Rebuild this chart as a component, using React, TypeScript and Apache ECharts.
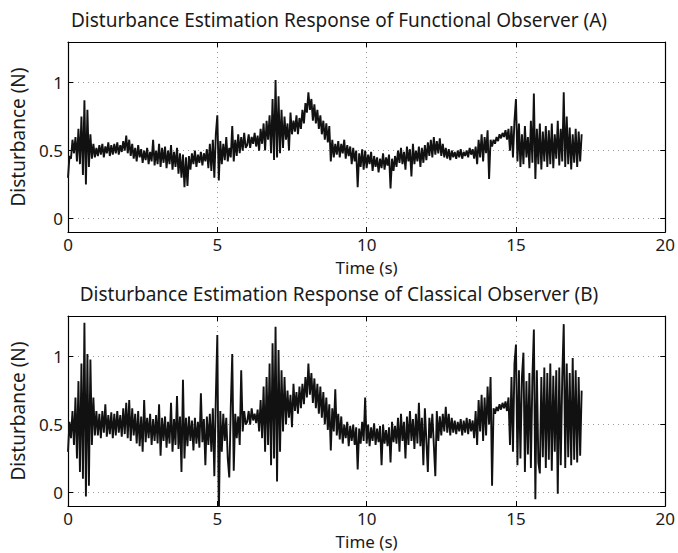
import React, { useEffect, useRef } from "react";
import * as echarts from "echarts";

// ---- data ----
const SAMPLE_DT = 0.05; // seconds between listed samples
const X_MIN = 0;
const X_MAX = 20;
const X_STEP = 5;
const Y_MIN = -0.1;
const Y_MAX = 1.3;
const Y_TICKS = [0, 0.5, 1];

const TITLE_A = "Disturbance Estimation Response of Functional Observer (A)";
const TITLE_B = "Disturbance Estimation Response of Classical Observer (B)";
const X_NAME = "Time (s)";
const Y_NAME = "Disturbance (N)";

// Functional observer (A), one row per second
const FUNCTIONAL_A = [
  0.30, 0.46, 0.44, 0.58, 0.48, 0.60, 0.42, 0.66, 0.40, 0.75, 0.32, 0.87, 0.25, 0.80, 0.38, 0.62, 0.44, 0.55, 0.45, 0.52,
  0.46, 0.54, 0.47, 0.55, 0.45, 0.53, 0.48, 0.56, 0.46, 0.54, 0.47, 0.55, 0.48, 0.56, 0.47, 0.54, 0.49, 0.57, 0.50, 0.61,
  0.48, 0.58, 0.46, 0.55, 0.44, 0.52, 0.42, 0.54, 0.45, 0.51, 0.41, 0.50, 0.43, 0.52, 0.40, 0.49, 0.42, 0.58, 0.39, 0.50,
  0.40, 0.55, 0.38, 0.52, 0.41, 0.53, 0.37, 0.50, 0.40, 0.54, 0.36, 0.49, 0.38, 0.52, 0.33, 0.48, 0.30, 0.47, 0.23, 0.45,
  0.24, 0.46, 0.36, 0.48, 0.40, 0.50, 0.38, 0.47, 0.41, 0.49, 0.39, 0.48, 0.42, 0.51, 0.37, 0.55, 0.35, 0.58, 0.30, 0.62,
  0.76, 0.28, 0.57, 0.40, 0.55, 0.43, 0.60, 0.42, 0.52, 0.45, 0.68, 0.42, 0.58, 0.46, 0.62, 0.48, 0.60, 0.50, 0.63, 0.52,
  0.54, 0.62, 0.52, 0.60, 0.55, 0.63, 0.53, 0.61, 0.50, 0.66, 0.55, 0.70, 0.50, 0.72, 0.58, 0.76, 0.48, 0.88, 0.43, 1.02,
  0.45, 0.90, 0.48, 0.80, 0.52, 0.75, 0.58, 0.70, 0.50, 0.78, 0.62, 0.72, 0.64, 0.76, 0.62, 0.74, 0.66, 0.80, 0.70, 0.85,
  0.78, 0.93, 0.80, 0.88, 0.72, 0.84, 0.70, 0.80, 0.66, 0.76, 0.62, 0.72, 0.58, 0.70, 0.56, 0.68, 0.42, 0.58, 0.45, 0.55,
  0.47, 0.57, 0.45, 0.55, 0.48, 0.58, 0.44, 0.54, 0.46, 0.53, 0.40, 0.52, 0.42, 0.50, 0.23, 0.48, 0.38, 0.51, 0.36, 0.50,
  0.37, 0.47, 0.40, 0.49, 0.35, 0.46, 0.38, 0.45, 0.34, 0.44, 0.37, 0.48, 0.36, 0.45, 0.39, 0.47, 0.22, 0.44, 0.35, 0.46,
  0.38, 0.50, 0.41, 0.52, 0.40, 0.49, 0.36, 0.53, 0.42, 0.51, 0.31, 0.55, 0.40, 0.50, 0.42, 0.53, 0.38, 0.52, 0.41, 0.54,
  0.43, 0.56, 0.46, 0.58, 0.45, 0.60, 0.47, 0.57, 0.48, 0.59, 0.46, 0.55, 0.45, 0.52, 0.44, 0.51, 0.43, 0.50, 0.45, 0.49,
  0.44, 0.50, 0.45, 0.51, 0.44, 0.49, 0.46, 0.50, 0.45, 0.52, 0.47, 0.51, 0.44, 0.53, 0.40, 0.58, 0.45, 0.62, 0.42, 0.60,
  0.48, 0.65, 0.29, 0.58, 0.53, 0.58, 0.55, 0.60, 0.57, 0.62, 0.59, 0.63, 0.60, 0.65, 0.58, 0.66, 0.50, 0.68, 0.45, 0.72,
  0.88, 0.42, 0.70, 0.38, 0.62, 0.40, 0.68, 0.45, 0.60, 0.37, 0.72, 0.41, 0.92, 0.29, 0.66, 0.40, 0.70, 0.36, 0.64, 0.42,
  0.68, 0.38, 0.65, 0.40, 0.70, 0.37, 0.62, 0.44, 0.72, 0.39, 0.66, 0.42, 0.93, 0.38, 0.75, 0.40, 0.67, 0.36, 0.62, 0.41,
  0.66, 0.38, 0.64, 0.42, 0.62,
];

// Classical observer (B), one row per second
const CLASSICAL_B = [
  0.30, 0.52, 0.40, 0.60, 0.35, 0.70, 0.25, 0.82, 0.15, 0.95, 0.10, 1.25, -0.03, 1.02, 0.05, 0.98, 0.35, 0.70, 0.42, 0.60,
  0.42, 0.58, 0.40, 0.60, 0.44, 0.65, 0.41, 0.57, 0.43, 0.59, 0.40, 0.58, 0.42, 0.60, 0.44, 0.57, 0.41, 0.62, 0.43, 0.66,
  0.40, 0.68, 0.38, 0.62, 0.42, 0.58, 0.36, 0.60, 0.34, 0.56, 0.30, 0.68, 0.37, 0.55, 0.40, 0.58, 0.35, 0.54, 0.38, 0.57,
  0.36, 0.65, 0.27, 0.55, 0.38, 0.56, 0.33, 0.52, 0.36, 0.66, 0.30, 0.54, 0.35, 0.71, 0.32, 0.56, 0.15, 0.83, 0.25, 0.55,
  0.34, 0.56, 0.38, 0.53, 0.31, 0.55, 0.36, 0.52, 0.33, 0.73, 0.37, 0.54, 0.20, 0.56, 0.35, 0.58, 0.30, 0.62, 0.12, 0.70,
  1.16, -0.20, 0.60, 0.30, 0.58, 0.38, 0.55, 0.25, 0.11, 0.62, 1.02, 0.16, 0.58, 0.40, 0.56, 0.35, 0.90, 0.45, 0.60, 0.50,
  0.52, 0.60, 0.50, 0.62, 0.53, 0.58, 0.51, 0.61, 0.45, 0.68, 0.40, 0.78, 0.30, 0.85, 0.35, 0.95, 0.20, 1.10, 0.25, 1.22,
  0.08, 1.05, 0.30, 0.90, 0.45, 0.85, 0.50, 0.75, 0.55, 0.72, 0.48, 0.80, 0.60, 0.74, 0.58, 0.78, 0.62, 0.80, 0.65, 0.85,
  0.70, 0.95, 0.72, 0.88, 0.66, 0.84, 0.62, 0.80, 0.58, 0.78, 0.55, 0.74, 0.50, 0.70, 0.46, 0.65, 0.31, 0.62, 0.45, 0.76,
  0.42, 0.58, 0.39, 0.56, 0.36, 0.50, 0.40, 0.52, 0.34, 0.49, 0.38, 0.50, 0.35, 0.48, 0.17, 0.47, 0.36, 0.52, 0.38, 0.70,
  0.36, 0.50, 0.34, 0.48, 0.38, 0.51, 0.35, 0.47, 0.37, 0.49, 0.20, 0.50, 0.36, 0.46, 0.34, 0.48, 0.22, 0.52, 0.37, 0.49,
  0.36, 0.55, 0.30, 0.58, 0.38, 0.52, 0.25, 0.56, 0.35, 0.60, 0.38, 0.54, 0.32, 0.58, 0.36, 0.66, 0.34, 0.55, 0.20, 0.62,
  0.38, 0.15, 0.55, 0.40, 0.58, 0.35, 0.12, 0.60, 0.38, 0.56, 0.42, 0.58, 0.45, 0.63, 0.44, 0.58, 0.42, 0.55, 0.44, 0.53,
  0.43, 0.52, 0.45, 0.54, 0.42, 0.53, 0.44, 0.55, 0.43, 0.54, 0.45, 0.53, 0.40, 0.60, 0.35, 0.68, 0.45, 0.72, 0.38, 0.70,
  0.42, 0.78, 0.50, 0.85, 0.05, 0.62, 0.58, 0.63, 0.60, 0.65, 0.61, 0.66, 0.62, 0.67, 0.60, 0.70, 0.35, 0.85, 0.30, 0.95,
  1.09, 0.20, 0.90, 0.25, 0.85, 1.03, 0.15, 0.82, 0.28, 0.88, 0.18, 0.84, 1.20, -0.05, 0.90, 0.22, 0.14, 0.85, 0.26, 0.92,
  0.18, 0.88, 0.24, 0.95, 0.16, 0.86, 0.30, 0.90, -0.01, 0.92, 0.20, 0.85, 1.24, 0.18, 0.95, 0.26, 0.88, 0.20, 0.99, 0.24,
  0.90, 0.22, 0.85, 0.27, 0.75,
];

const FONT = '"Noto Sans", "Open Sans", sans-serif';
const INK = "#1a1a1a";

function toPoints(values: number[]) {
  return values.map((v, i) => [Math.round(i * SAMPLE_DT * 100) / 100, v]);
}

function axesFor(gridIndex: number) {
  const gridLine = { show: true, lineStyle: { type: [1, 4], color: "#9a9a9a", width: 1 } };
  const axisLine = { show: true, onZero: false, lineStyle: { color: "#000", width: 1.2 } };
  const tick = { show: true, inside: true, length: 5, lineStyle: { color: "#000", width: 1 } };
  const xBottom = {
    type: "value",
    gridIndex,
    position: "bottom",
    min: X_MIN,
    max: X_MAX,
    interval: X_STEP,
    name: X_NAME,
    nameLocation: "middle",
    nameGap: 27,
    nameTextStyle: { fontSize: 17, lineHeight: 17, color: INK, fontFamily: FONT },
    axisLine,
    axisTick: tick,
    axisLabel: { fontSize: 17, lineHeight: 16, color: INK, fontFamily: FONT, margin: 4 },
    splitLine: gridLine,
  };
  const xTop = {
    type: "value",
    gridIndex,
    position: "top",
    min: X_MIN,
    max: X_MAX,
    interval: X_STEP,
    axisLine,
    axisTick: tick,
    axisLabel: { show: false },
    splitLine: { show: false },
  };
  const yLeft = {
    type: "value",
    gridIndex,
    position: "left",
    min: Y_MIN,
    max: Y_MAX,
    name: Y_NAME,
    nameLocation: "middle",
    nameGap: 41,
    nameRotate: 90,
    nameTextStyle: { fontSize: 19, lineHeight: 19, color: INK, fontFamily: FONT },
    axisLine,
    axisTick: { ...tick, customValues: Y_TICKS },
    axisLabel: {
      fontSize: 17,
      color: INK,
      fontFamily: FONT,
      margin: 5,
      customValues: Y_TICKS,
      formatter: (v: number) => String(v),
    },
    splitLine: gridLine,
  };
  const yRight = {
    type: "value",
    gridIndex,
    position: "right",
    min: Y_MIN,
    max: Y_MAX,
    axisLine,
    axisTick: { ...tick, customValues: Y_TICKS },
    axisLabel: { show: false, customValues: Y_TICKS },
    splitLine: { show: false },
  };
  return { x: [xBottom, xTop], y: [yLeft, yRight] };
}

export default function App() {
  const ref = useRef<HTMLDivElement>(null);
  useEffect(() => {
    if (!ref.current) return;
    const chart = echarts.init(ref.current, null, { renderer: "svg" });
    const a = axesFor(0);
    const b = axesFor(1);
    const lineStyle = { color: "#111", width: 1.9, join: "miter", miterLimit: 2 };
    chart.setOption({
      animation: false,
      backgroundColor: "#fff",
      title: [
        {
          text: TITLE_A,
          left: "center",
          top: 5,
          textStyle: { fontSize: 19, fontWeight: "normal", color: INK, fontFamily: FONT },
        },
        {
          text: TITLE_B,
          left: "center",
          top: 279,
          textStyle: { fontSize: 19, fontWeight: "normal", color: INK, fontFamily: FONT },
        },
      ],
      grid: [
        { left: 67, top: 42, width: 601, height: 190 },
        { left: 67, top: 316, width: 601, height: 190 },
      ],
      xAxis: [...a.x, ...b.x],
      yAxis: [...a.y, ...b.y],
      series: [
        {
          type: "line",
          name: "Functional observer",
          xAxisIndex: 0,
          yAxisIndex: 0,
          data: toPoints(FUNCTIONAL_A),
          showSymbol: false,
          symbol: "none",
          lineStyle,
          clip: true,
        },
        {
          type: "line",
          name: "Classical observer",
          xAxisIndex: 2,
          yAxisIndex: 2,
          data: toPoints(CLASSICAL_B),
          showSymbol: false,
          symbol: "none",
          lineStyle,
          clip: true,
        },
      ],
    });
    return () => chart.dispose();
  }, []);
  return (
    <div
      ref={ref}
      style={{ position: "fixed", left: 0, top: 0, width: 678, height: 553 }}
    />
  );
}
